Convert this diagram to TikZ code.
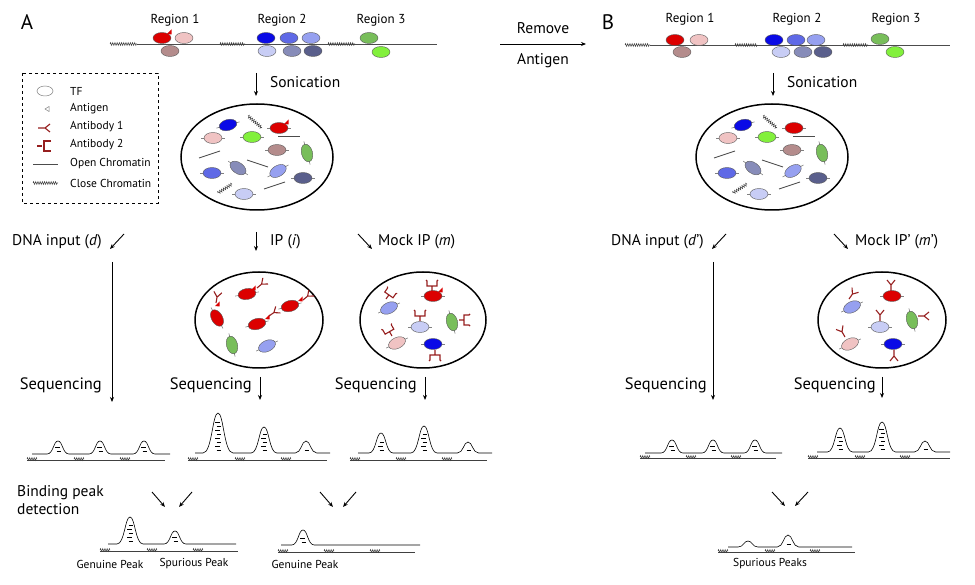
\documentclass[tikz,border=0pt]{standalone}
\usepackage{fontspec}
\setmainfont{PT Sans}
\usetikzlibrary{arrows.meta,decorations.pathmorphing}
\definecolor{cRed}{RGB}{220,0,0}
\definecolor{cPink}{RGB}{240,195,195}
\definecolor{cMauve}{RGB}{180,140,140}
\definecolor{cBlue}{RGB}{10,10,230}
\definecolor{cMid}{RGB}{95,105,230}
\definecolor{cViol}{RGB}{150,160,240}
\definecolor{cPale}{RGB}{200,205,245}
\definecolor{cGrayB}{RGB}{135,140,185}
\definecolor{cSlate}{RGB}{90,95,140}
\definecolor{cGreen}{RGB}{120,190,90}
\definecolor{cLime}{RGB}{130,240,60}
\definecolor{cAb}{RGB}{150,30,30}
\newcommand\TF[5][0]{% [tails] x y color angle
 \begin{scope}[shift={(#2,#3)},rotate=#5]
  \ifnum#1=1 \draw[gray,line width=0.6pt] (-12,0)--(12,0);\fi
  \filldraw[fill=#4,draw=gray!70!black,line width=0.4pt] (0,0) ellipse (9 and 5.5);
 \end{scope}}
\newcommand\AbY[3]{\begin{scope}[shift={(#1,#2)},rotate=#3]
 \draw[ab] (0,0)--(0,-6) (-4,-11)--(0,-6)--(4,-11);\end{scope}}
\newcommand\AbB[3]{\begin{scope}[shift={(#1,#2)},rotate=#3]
 \draw[ab] (0,0)--(0,-5) (-6,-11)--(-5,-10)--(-5,-5)--(5,-5)--(5,-10)--(6,-11);\end{scope}}
\newcommand\Ag[2]{\fill[cRed] (#1,#2)--(#1+4.5,#2-4.5)--(#1+4.5,#2+0.5)--cycle;}
\newcommand\Zig[4]{\draw[closed] (#1,#2)--(#3,#4);}
\newcommand\Open[4]{\draw[open] (#1,#2)--(#3,#4);}
\newcommand\Track[4]{% x0 x1 base {p/h,...}
 \draw[line width=0.6pt] (#1,#3) \foreach \p/\h in {#4}{ -- ({\p-9-0.15*\h},#3) .. controls ({\p-4-0.05*\h},#3) and ({\p-4-0.04*\h},#3-\h) .. (\p,#3-\h) .. controls ({\p+4+0.04*\h},#3-\h) and ({\p+4+0.05*\h},#3) .. ({\p+9+0.15*\h},#3)} -- (#2,#3);
 \foreach \p/\h in {#4}{\pgfmathtruncatemacro\n{(\h-5)/4}
  \ifnum\n>0 \foreach \k in {1,...,\n}{\draw[line width=0.5pt] ({\p-3+mod(\k,2)*1.5},#3-\k*4+1)--++(4.5,0);}\fi}}
\newcommand\Ground[6]{\draw[gray!50!black,line width=0.9pt] (#1,#3)--(#2,#3);
 \foreach \z in {#1,#4,#5}{\draw[closed] (\z,#3-1)--++(10,0);}}
\newcommand\Sonic[2]{% dx, antigen flag
 \begin{scope}[xshift=#1]
 \draw[circ] (257,157) ellipse (76 and 53);
 \TF[1]{228}{125}{cBlue}{15}
 \Zig{248}{116}{262}{128}
 \TF[1]{279}{128}{cRed}{0}
 \ifnum#2=1 \Ag{284}{124}\fi
 \TF[1]{213}{138}{cPink}{0}
 \TF[1]{252}{137}{cLime}{0}
 \Open{278}{136}{300}{136}
 \TF[1]{277}{150}{cMauve}{0}
 \TF[1]{307}{153}{cGreen}{-75}
 \Open{199}{158}{220}{151}
 \TF[1]{238}{168}{cGrayB}{-35}
 \Open{247}{160}{268}{167}
 \TF[1]{212}{173}{cMid}{0}
 \TF[1]{278}{171}{cViol}{30}
 \TF[1]{303}{178}{cSlate}{0}
 \Zig{218}{193}{232}{184}
 \TF[1]{244}{194}{cPale}{0}
 \Open{264}{189}{285}{182}
 \end{scope}}
\begin{document}
\begin{tikzpicture}[x=1pt,y=-1pt,
 lbl/.style={font=\fontsize{15.5}{18}\selectfont,inner sep=0pt},
 seq/.style={font=\fontsize{16.5}{18}\selectfont,inner sep=0pt},
 reg/.style={font=\fontsize{13}{15}\selectfont,inner sep=0pt},
 leg/.style={font=\fontsize{11.5}{13}\selectfont,inner sep=0pt,anchor=west},
 sml/.style={font=\fontsize{11.5}{13}\selectfont,inner sep=0pt},
 arr/.style={line width=0.9pt,-{Stealth[length=5pt,width=4pt]}},
 ab/.style={cAb,line width=1.1pt},
 circ/.style={line width=1.5pt},
 closed/.style={gray!50!black,line width=0.5pt,decorate,decoration={zigzag,segment length=2.2pt,amplitude=1.4pt}},
 open/.style={gray!60!black,line width=0.9pt}]
\useasboundingbox (0,0) rectangle (975,585);
% ---------- Panel labels
\node[font=\fontsize{21}{23}\selectfont,inner sep=0] (A) at (27,22) {A};
\node[font=\fontsize{21}{23}\selectfont,inner sep=0] (B) at (608,22) {B};
% ---------- top chromatin A
\draw[gray!60!black,line width=0.8pt] (137,44)--(437,44);
\Zig{110}{44}{137}{44}\Zig{220}{44}{245}{44}\Zig{328}{44}{355}{44}
\node[reg] (r1a) at (175,20) {Region 1};
\node[reg] (r2a) at (282,20) {Region 2};
\node[reg] (r3a) at (381,20) {Region 3};
\TF{162}{38}{cRed}{0}\TF{184}{38}{cPink}{0}\TF{170}{51}{cMauve}{0}\Ag{167}{34}
\TF{266}{38}{cBlue}{0}\TF{289}{38}{cMid}{0}\TF{311}{38}{cViol}{0}
\TF{267}{51}{cPale}{0}\TF{292}{51}{cGrayB}{0}\TF{313}{51}{cSlate}{0}
\TF{369}{38}{cGreen}{0}\TF{381}{52}{cLime}{0}
% ---------- top chromatin B
\draw[gray!60!black,line width=0.8pt] (650,45)--(950,45);
\Zig{625}{45}{650}{45}\Zig{735}{45}{757}{45}\Zig{843}{45}{868}{45}
\node[reg] (r1b) at (690,19) {Region 1};
\node[reg] (r2b) at (797,19) {Region 2};
\node[reg] (r3b) at (896,19) {Region 3};
\TF{675}{40}{cRed}{0}\TF{699}{40}{cPink}{0}\TF{682}{52}{cMauve}{0}
\TF{774}{40}{cBlue}{0}\TF{796}{40}{cMid}{0}\TF{816}{40}{cViol}{0}
\TF{781}{52}{cPale}{0}\TF{803}{52}{cGrayB}{0}\TF{823}{52}{cSlate}{0}
\TF{880}{39}{cGreen}{0}\TF{895}{52}{cLime}{0}
% ---------- remove antigen
\coordinate (ra1) at (500,44); \coordinate (ra2) at (586,44);
\draw[arr] (ra1)--(ra2);
\node[lbl] (rem) at (543,28) {Remove};
\node[lbl] (ant) at (543,61) {Antigen};
% ---------- sonication
\coordinate (sa1) at (256,73); \coordinate (sa2) at (256,96);
\draw[arr] (sa1)--(sa2);
\node[lbl,anchor=west] (sona) at (270,82) {Sonication};
\coordinate (sb1) at (773,73); \coordinate (sb2) at (773,96);
\draw[arr] (sb1)--(sb2);
\node[lbl,anchor=west] (sonb) at (787,82) {Sonication};
\Sonic{0}{1}
\Sonic{515}{0}
% ---------- legend
\draw[dashed,line width=0.8pt] (22,73) rectangle (158,203);
\draw[gray,line width=0.5pt] (45,91) ellipse (8 and 5);
\node[leg] (lt) at (70,91) {TF};
\draw[gray,line width=0.5pt] (45,109)--(49,106.5)--(49,111.5)--cycle;
\node[leg] (la) at (70,109) {Antigen};
\draw[ab] (38,128)--(45,128) (45,128)--(50,124) (45,128)--(50,132);
\node[leg] (l1) at (70,127) {Antibody 1};
\draw[ab] (37,146)--(42,146) (51,141)--(44,141)--(44,151)--(51,151);
\node[leg] (l2) at (70,145) {Antibody 2};
\draw[open] (33,164)--(58,164);
\node[leg] (lo) at (70,164) {Open Chromatin};
\Zig{33}{183}{58}{183}
\node[leg] (lc) at (70,183) {Close Chromatin};
% ---------- branch labels A
\node[lbl,anchor=west] (dna) at (12,242) {DNA input (\textit{d})};
\coordinate (d1) at (124,234); \coordinate (d2) at (110,249);
\draw[arr] (d1)--(d2);
\coordinate (i1) at (256,232); \coordinate (i2) at (256,251);
\draw[arr] (i1)--(i2);
\node[lbl,anchor=west] (ip) at (270,242) {IP (\textit{i})};
\coordinate (m1) at (358,234); \coordinate (m2) at (372,249);
\draw[arr] (m1)--(m2);
\node[lbl,anchor=west] (mock) at (378,242) {Mock IP (\textit{m})};
% ---------- branch labels B
\node[lbl,anchor=west] (dnab) at (611,242) {DNA input (\textit{d}’)};
\coordinate (e1) at (726,234); \coordinate (e2) at (712,249);
\draw[arr] (e1)--(e2);
\coordinate (n1) at (834,234); \coordinate (n2) at (848,249);
\draw[arr] (n1)--(n2);
\node[lbl,anchor=west] (mockb) at (855,242) {Mock IP’ (\textit{m}’)};
% ---------- IP circle
\draw[circ] (259,320) ellipse (64 and 48);
\TF[1]{247}{294}{cRed}{10}\Ag{251}{290}\AbY{257}{288}{-50}
\TF[1]{217}{318}{cRed}{-60}\Ag{215}{306}\AbY{216}{303}{-10}
\TF[1]{290}{306}{cRed}{15}\Ag{298}{301}\AbY{303}{300}{-50}
\TF[1]{257}{324}{cRed}{15}\Ag{265}{319}\AbY{269}{316}{-55}
\TF[1]{232}{345}{cGreen}{-75}
\TF[1]{267}{346}{cViol}{25}
% ---------- Mock circle A
\draw[circ] (423,320) ellipse (63 and 48);
\TF[1]{389}{308}{cViol}{25}\AbB{386}{299}{-35}
\TF[1]{433}{296}{cRed}{0}\Ag{438}{292}\AbB{432}{291}{0}
\TF[1]{420}{327}{cPale}{0}\AbB{420}{321}{0}
\TF[1]{452}{322}{cGreen}{-75}\AbB{459}{320}{-90}
\TF[1]{397}{343}{cPink}{25}\AbB{392}{336}{30}
\TF[1]{433}{344}{cBlue}{0}\AbB{435}{350}{180}
% ---------- Mock circle B
\draw[circ] (882,320) ellipse (64 and 48);
\TF[1]{852}{307}{cViol}{25}\AbY{849}{299}{-35}
\TF[1]{892}{296}{cRed}{0}\AbY{891}{291}{0}
\TF[1]{880}{327}{cPale}{0}\AbY{880}{321}{0}
\TF[1]{912}{320}{cGreen}{-75}\AbY{918}{316}{-90}
\TF[1]{850}{344}{cPink}{25}\AbY{845}{337}{30}
\TF[1]{893}{344}{cBlue}{0}\AbY{894}{350}{180}
% ---------- sequencing
\coordinate (va1) at (112,262); \coordinate (va2) at (112,402);
\draw[arr] (va1)--(va2);
\node[seq,anchor=east] (sq1) at (102,385) {Sequencing};
\coordinate (q2a) at (260,377); \coordinate (q2b) at (260,400);
\draw[arr] (q2a)--(q2b);
\node[seq,anchor=east] (sq2) at (252,385) {Sequencing};
\coordinate (q3a) at (425,377); \coordinate (q3b) at (425,400);
\draw[arr] (q3a)--(q3b);
\node[seq,anchor=east] (sq3) at (417,385) {Sequencing};
\coordinate (vb1) at (713,262); \coordinate (vb2) at (713,400);
\draw[arr] (vb1)--(vb2);
\node[seq,anchor=east] (sq4) at (707,385) {Sequencing};
\coordinate (q5a) at (882,377); \coordinate (q5b) at (882,398);
\draw[arr] (q5a)--(q5b);
\node[seq,anchor=east] (sq5) at (876,385) {Sequencing};
% ---------- tracks
\Track{32}{170}{454}{58/13,100/13,144/13}\Ground{27}{165}{460}{74}{120}{}
\Track{195}{330}{453}{218/40,264/26,306/12}\Ground{188}{327}{460}{235}{281}{}
\Track{358}{492}{453}{381/20,424/27,468/11}\Ground{350}{487}{460}{396}{442}{}
\Track{645}{782}{453}{672/13,713/13,755/13}\Ground{640}{776}{458}{686}{731}{}
\Track{817}{950}{452}{840/24,882/30,925/11}\Ground{808}{950}{458}{855}{900}{}
% ---------- binding peak detection
\node[lbl,anchor=west,align=left] (bpd) at (17,500) {Binding peak\\detection};
\coordinate (p1a) at (152,492); \coordinate (p1b) at (165,507); \draw[arr] (p1a)--(p1b);
\coordinate (p2a) at (192,492); \coordinate (p2b) at (179,507); \draw[arr] (p2a)--(p2b);
\coordinate (p3a) at (320,492); \coordinate (p3b) at (333,507); \draw[arr] (p3a)--(p3b);
\coordinate (p4a) at (356,492); \coordinate (p4b) at (343,507); \draw[arr] (p4a)--(p4b);
\coordinate (p5a) at (772,492); \coordinate (p5b) at (785,506); \draw[arr] (p5a)--(p5b);
\coordinate (p6a) at (808,492); \coordinate (p6b) at (795,506); \draw[arr] (p6a)--(p6b);
% ---------- results
\Track{108}{236}{544}{130/27,175/13}\Ground{100}{238}{551}{147}{193}{}
\Track{281}{420}{545}{303/15}\Ground{278}{415}{552}{324}{370}{}
\Track{728}{852}{547}{748/6,788/12}\Ground{718}{855}{552}{765}{810}{}
\node[sml] (g1) at (110,564) {Genuine Peak};
\node[sml] (s1) at (194,564) {Spurious Peak};
\node[sml] (g2) at (305,564) {Genuine Peak};
\node[sml] (s2) at (770,564) {Spurious Peaks};
\end{tikzpicture}
\end{document}
